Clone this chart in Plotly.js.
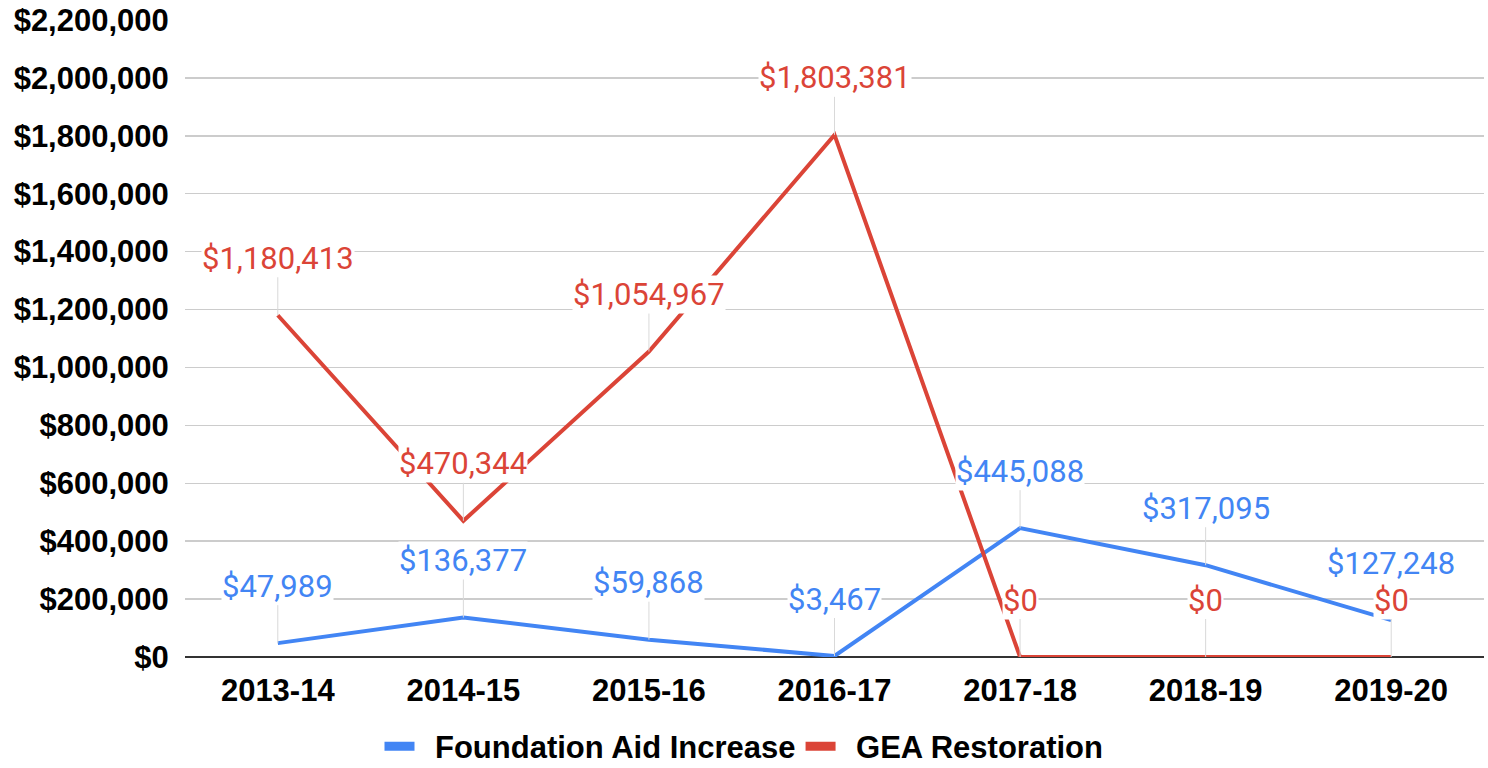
<!DOCTYPE html>
<html>
<head>
<meta charset="utf-8">
<script src="https://cdn.plot.ly/plotly-3.0.1.min.js"></script>
<style>html,body{margin:0;padding:0;background:#fff;}#chart{width:1488px;height:768px;}</style>
</head>
<body>
<div id="chart"></div>
<script>
const years = ["2013-14", "2014-15", "2015-16", "2016-17", "2017-18", "2018-19", "2019-20"];
const foundationAid = [47989, 136377, 59868, 3467, 445088, 317095, 127248];
const geaRestoration = [1180413, 470344, 1054967, 1803381, 0, 0, 0];
const seriesNames = ["Foundation Aid Increase", "GEA Restoration"];
const seriesColors = ["#4285F4", "#DB4437"];

const fmt = v => "$" + v.toLocaleString("en-US");

const traces = [foundationAid, geaRestoration].map((vals, i) => ({
  type: "scatter",
  mode: "lines",
  x: years,
  y: vals,
  name: seriesNames[i],
  line: {color: seriesColors[i], width: 4},
  showlegend: false,
  hoverinfo: "skip"
}));

// legend-only entries with thick swatches (en space for swatch/text gap)
seriesNames.forEach((n, i) => {
  traces.push({
    type: "scatter", mode: "lines",
    x: [null], y: [null],
    name: "\u2002" + n,
    line: {color: seriesColors[i], width: 9},
    showlegend: true, hoverinfo: "skip"
  });
});

const annotations = [];
[foundationAid, geaRestoration].forEach((vals, i) => {
  vals.forEach((v, j) => {
    annotations.push({
      x: years[j], y: v, xref: "x", yref: "y",
      text: fmt(v),
      showarrow: true, arrowhead: 0, arrowwidth: 1, arrowcolor: "#d9d9d9",
      ax: 0, ay: -57,
      bgcolor: "#ffffff", borderpad: 0,
      font: {family: "Roboto", size: 31, color: seriesColors[i]}
    });
  });
});

const axisFont = {family: "Liberation Sans", size: 31, color: "#000", weight: "bold"};

const layout = {
  width: 1488, height: 768,
  margin: {l: 185, r: 4, t: 20, b: 111},
  paper_bgcolor: "#fff", plot_bgcolor: "#fff",
  showlegend: true,
  legend: {
    orientation: "h", xref: "container", yref: "container",
    x: 0.5, xanchor: "center", y: 0.028, yanchor: "middle",
    font: axisFont,
    itemwidth: 30
  },
  xaxis: {
    type: "category",
    range: [-0.5, 6.5], autorange: false,
    showgrid: false, zeroline: false, showline: false,
    ticks: "outside", ticklen: 6, tickcolor: "rgba(0,0,0,0)",
    tickfont: axisFont,
    fixedrange: true
  },
  yaxis: {
    range: [0, 2200000], autorange: false, dtick: 200000, tick0: 0,
    tickprefix: "$", tickformat: ",d",
    showgrid: true, gridcolor: "#cccccc", gridwidth: 1.5,
    zeroline: true, zerolinecolor: "#333333", zerolinewidth: 2,
    ticks: "outside", ticklen: 9, tickcolor: "rgba(0,0,0,0)",
    tickfont: axisFont,
    fixedrange: true
  },
  annotations: annotations
};

Plotly.newPlot("chart", traces, layout, {staticPlot: true});
</script>
</body>
</html>
